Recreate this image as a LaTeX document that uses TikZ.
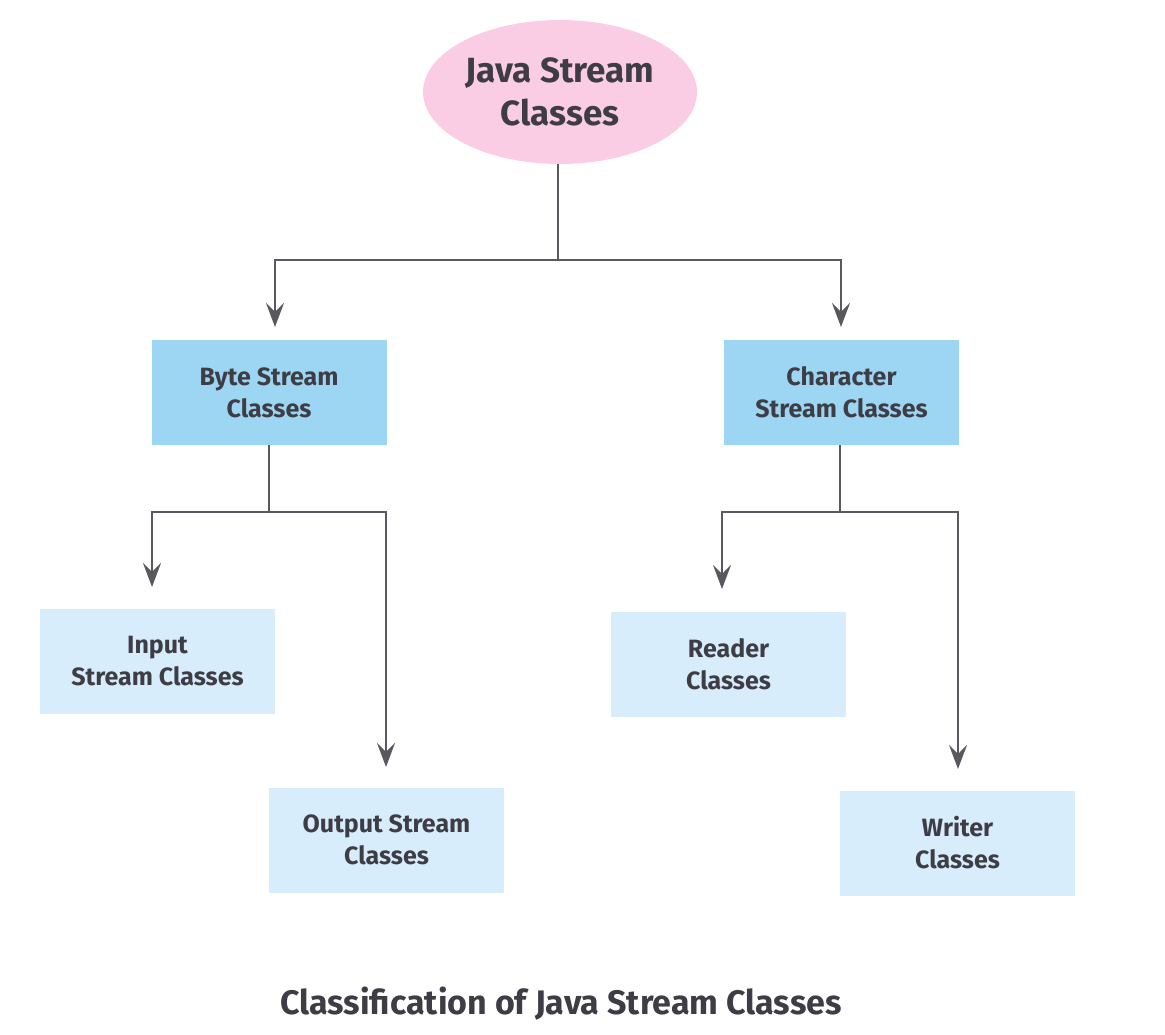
\documentclass[tikz,border=0pt]{standalone}
\usepackage{fontspec}
\setmainfont{Fira Sans}
\usetikzlibrary{shapes.geometric,arrows.meta}
\definecolor{txt}{HTML}{3E3D45}
\definecolor{pinkf}{HTML}{FBCDE5}
\definecolor{bluef}{HTML}{9DD6F2}
\definecolor{lightf}{HTML}{D8EDFC}
\definecolor{linec}{HTML}{58585E}
\tikzset{
  topnode/.style={ellipse,fill=pinkf,minimum width=274pt,minimum height=144pt,inner sep=0pt,align=center,text=txt,font=\fontsize{35}{43}\selectfont\bfseries},
  midbox/.style={rectangle,fill=bluef,minimum width=235pt,minimum height=105pt,inner sep=0pt,align=center,text=txt,font=\fontsize{25}{32}\selectfont\bfseries},
  leafbox/.style={rectangle,fill=lightf,minimum width=235pt,minimum height=105pt,inner sep=0pt,align=center,text=txt,font=\fontsize{25}{32}\selectfont\bfseries},
  conn/.style={draw=linec,line width=2pt},
  arr/.style={conn,-{Stealth[length=24pt,width=18pt,inset=9pt]}},
}
\begin{document}
\begin{tikzpicture}[x=1pt,y=-1pt]
\useasboundingbox (0,0) rectangle (1165,1035);
\node[topnode] (java) at (560,92) {Java Stream\\Classes};
\node[midbox] (byte) at (269,392.5) {Byte Stream\\Classes};
\node[midbox] (char) at (841.5,392.5) {Character\\Stream Classes};
\node[leafbox] (input) at (157.5,661) {Input\\Stream Classes};
\node[leafbox] (output) at (386.5,840) {Output Stream\\Classes};
\node[leafbox] (reader) at (728.5,664.5) {Reader\\Classes};
\node[leafbox] (writer) at (957.5,843) {Writer\\Classes};
\coordinate (j1) at (558,260);
\coordinate (b1) at (269,512);
\coordinate (c1) at (840,512);
\coordinate (bt) at (275,327);
\coordinate (ct) at (841,327);
\coordinate (it) at (152,587);
\coordinate (ot) at (386,767);
\coordinate (rt) at (722,589);
\coordinate (wt) at (958,769);
\draw[conn] (java.south -| j1) -- (j1);
\draw[arr] (j1) -| (bt);
\draw[arr] (j1) -| (ct);
\draw[conn] (byte.south -| b1) -- (b1);
\draw[arr] (b1) -| (it);
\draw[arr] (b1) -| (ot);
\draw[conn] (char.south -| c1) -- (c1);
\draw[arr] (c1) -| (rt);
\draw[arr] (c1) -| (wt);
\node[text=txt,font=\fontsize{34}{40}\selectfont\bfseries] (cap) at (561,1004) {Classification of Java Stream Classes};
\end{tikzpicture}
\end{document}
